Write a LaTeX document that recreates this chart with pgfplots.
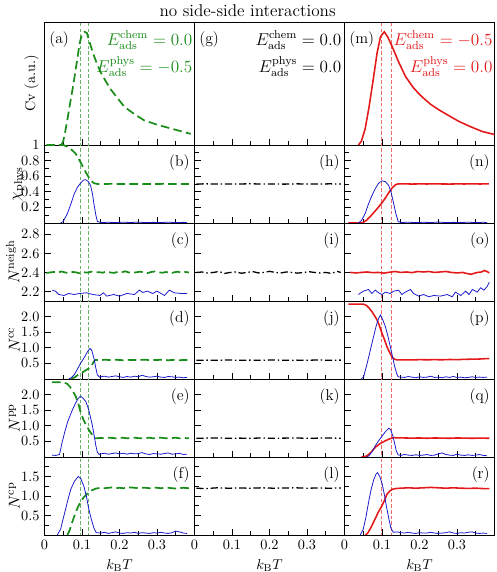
\documentclass[border=0pt]{standalone}
\usepackage{pgfplots}
\pgfplotsset{compat=1.18}

\definecolor{cgreen}{RGB}{25,140,25}
\definecolor{cred}{RGB}{228,25,25}
\definecolor{cblue}{RGB}{25,25,205}

\tikzset{
  lab/.style={font=\fontsize{11}{13}\selectfont, inner sep=0pt},
  ann/.style={anchor=north east, font=\large, inner sep=0pt},
  gline/.style={cgreen, line width=1.2pt, dash pattern=on 6pt off 3pt},
  rline/.style={cred, line width=1.1pt},
  kline/.style={black, line width=0.9pt, dash pattern=on 5pt off 2pt on 1pt off 2pt},
  bline/.style={cblue, line width=0.55pt},
  gv/.style={cgreen!65!white, line width=0.6pt, dash pattern=on 2.5pt off 1.5pt},
  rv/.style={cred!65!white, line width=0.6pt, dash pattern=on 2.5pt off 1.5pt},
}

\pgfplotsset{
  base/.style={
    scale only axis, width=105pt, anchor=north west,
    xmin=0, xmax=0.4,
    xtick={0,0.1,0.2,0.3}, minor xtick={0.05,0.15,0.25,0.35},
    xticklabels={},
    xtick pos=bottom, ytick pos=left, tick align=inside,
    axis line style={line width=0.6pt},
    every tick/.style={black, line width=0.5pt},
    ylabel style={at={([xshift=-17.5pt]rel axis cs:0,0.5)}, anchor=base,
      font=\fontsize{11}{13}\selectfont},
  },
  rowA/.style={height=86.1pt, ymin=0, ymax=1, ytick=\empty,
    ylabel style={at={([xshift=-6.5pt]rel axis cs:0,0.5)}, anchor=base,
      font=\normalsize}},
  rowB/.style={height=54.6pt, ymin=0, ymax=1, ytick={0.2,0.4,0.6,0.8,1},
    minor ytick={0.1,0.3,0.5,0.7,0.9}, yticklabels={0.2,0.4,0.6,0.8,1}},
  rowC/.style={height=54.6pt, ymin=2.1, ymax=2.92, ytick={2.2,2.4,2.6,2.8},
    yticklabels={2.2,2.4,2.6,2.8}},
  rowD/.style={height=54.6pt, ymin=0, ymax=2.5, ytick={0.5,1.0,1.5,2.0},
    yticklabels={0.5,1.0,1.5,2.0}},
  rowF/.style={height=54.6pt, ymin=0, ymax=2.0, ytick={0.5,1.0,1.5},
    minor ytick={0.25,0.75,1.25,1.75}, yticklabels={0.5,1.0,1.5}},
  nolab/.style={yticklabels={}},
  bottomrow/.style={xticklabels={0,0.1,0.2,0.3}, xlabel={$k_{\rm B}T$}},
}

\begin{document}
\begin{tikzpicture}
\useasboundingbox (0,0) rectangle (347.2pt,400.4pt);
\node[font=\large, anchor=base] at (173.3pt,388.5pt) {no side-side interactions};

%================ column 1: E_chem = 0.0, E_phys = -0.5 ================
\begin{axis}[base, rowA, at={(31.15pt,385pt)}, ylabel={Cv (a.u.)}]
  \addplot[gv] coordinates {(0.095,-10) (0.095,10)};
  \addplot[gv] coordinates {(0.118,-10) (0.118,10)};
  \addplot[gline] coordinates {(0.045,0.0) (0.05,0.03) (0.056,0.12) (0.063,0.24) (0.07,0.37) (0.077,0.49) (0.083,0.61) (0.089,0.73) (0.094,0.83) (0.1,0.90) (0.107,0.92) (0.113,0.91) (0.12,0.84) (0.13,0.74) (0.14,0.66) (0.15,0.59) (0.163,0.52) (0.177,0.45) (0.195,0.38) (0.213,0.31) (0.24,0.25) (0.266,0.20) (0.3,0.165) (0.33,0.14) (0.36,0.115) (0.39,0.09)};
  \node[lab, anchor=north west] at (rel axis cs:0.03,0.921) {(a)};
  \node[ann, text=cgreen] at (rel axis cs:0.987,0.93) {$E_{\rm ads}^{\rm chem}=0.0$};
  \node[ann, text=cgreen] at (rel axis cs:0.987,0.725) {$E_{\rm ads}^{\rm phys}=-0.5$};
\end{axis}

\begin{axis}[base, rowB, at={(31.15pt,298.9pt)}, ylabel={$\chi_{\rm phys}$}]
  \addplot[gv] coordinates {(0.095,-10) (0.095,10)};
  \addplot[gv] coordinates {(0.118,-10) (0.118,10)};
  \addplot[gline] coordinates {(0.005,1.0) (0.05,1.0) (0.06,0.98) (0.07,0.95) (0.083,0.89) (0.096,0.78) (0.11,0.65) (0.123,0.545) (0.132,0.51) (0.141,0.50) (0.16,0.50) (0.18,0.502) (0.2,0.499) (0.22,0.501) (0.24,0.50) (0.26,0.498) (0.28,0.501) (0.3,0.50) (0.32,0.502) (0.34,0.499) (0.36,0.501) (0.385,0.50)};
  \addplot[bline] coordinates {(0.043,0) (0.05,0.02) (0.061,0.12) (0.07,0.24) (0.079,0.37) (0.088,0.46) (0.096,0.51) (0.104,0.55) (0.11,0.555) (0.117,0.53) (0.123,0.48) (0.128,0.37) (0.132,0.24) (0.137,0.10) (0.141,0.02) (0.15,0.006) (0.17,0.009) (0.19,0.005) (0.21,0.01) (0.23,0.006) (0.25,0.011) (0.27,0.005) (0.29,0.008) (0.31,0.006) (0.33,0.01) (0.35,0.005) (0.37,0.008) (0.38,0.006)};
  \node[lab, anchor=north east] at (rel axis cs:0.97,0.878) {(b)};
\end{axis}

\begin{axis}[base, rowC, at={(31.15pt,244.3pt)}, ylabel={$N^{\rm neigh}$}]
  \addplot[gv] coordinates {(0.095,-10) (0.095,10)};
  \addplot[gv] coordinates {(0.118,-10) (0.118,10)};
  \addplot[gline] coordinates {(0.005,2.395) (0.015,2.40) (0.025,2.405) (0.035,2.398) (0.045,2.41) (0.055,2.40) (0.065,2.392) (0.075,2.405) (0.085,2.40) (0.095,2.39) (0.105,2.402) (0.115,2.398) (0.125,2.408) (0.135,2.40) (0.145,2.403) (0.155,2.397) (0.165,2.41) (0.175,2.40) (0.185,2.395) (0.195,2.405) (0.205,2.40) (0.215,2.412) (0.225,2.40) (0.235,2.395) (0.245,2.402) (0.255,2.408) (0.265,2.40) (0.275,2.393) (0.285,2.405) (0.295,2.41) (0.305,2.40) (0.315,2.397) (0.325,2.405) (0.335,2.39) (0.345,2.40) (0.355,2.408) (0.365,2.398) (0.375,2.405) (0.385,2.40)};
  \addplot[bline] coordinates {(0.021,2.214) (0.029,2.203) (0.038,2.168) (0.052,2.158) (0.065,2.179) (0.079,2.168) (0.094,2.179) (0.112,2.186) (0.129,2.168) (0.148,2.158) (0.157,2.186) (0.166,2.151) (0.184,2.168) (0.2,2.151) (0.22,2.179) (0.24,2.168) (0.253,2.214) (0.262,2.19) (0.275,2.203) (0.288,2.179) (0.3,2.203) (0.32,2.158) (0.333,2.214) (0.346,2.186) (0.364,2.179) (0.38,2.179)};
  \node[lab, anchor=north east] at (rel axis cs:0.97,0.878) {(c)};
\end{axis}

\begin{axis}[base, rowD, at={(31.15pt,189.7pt)}, ylabel={$N^{\rm cc}$}]
  \addplot[gv] coordinates {(0.095,-10) (0.095,10)};
  \addplot[gv] coordinates {(0.118,-10) (0.118,10)};
  \addplot[gline] coordinates {(0.07,0.0) (0.08,0.05) (0.088,0.12) (0.096,0.18) (0.104,0.23) (0.11,0.28) (0.117,0.33) (0.123,0.40) (0.128,0.48) (0.132,0.57) (0.136,0.61) (0.15,0.60) (0.16,0.62) (0.17,0.61) (0.18,0.60) (0.19,0.615) (0.2,0.61) (0.21,0.60) (0.22,0.62) (0.23,0.605) (0.24,0.61) (0.25,0.60) (0.26,0.615) (0.27,0.62) (0.28,0.60) (0.29,0.61) (0.3,0.605) (0.31,0.62) (0.32,0.61) (0.33,0.60) (0.34,0.61) (0.35,0.615) (0.36,0.60) (0.37,0.61) (0.385,0.605)};
  \addplot[bline] coordinates {(0.065,0) (0.072,0.05) (0.079,0.13) (0.088,0.32) (0.096,0.5) (0.104,0.65) (0.11,0.77) (0.116,0.9) (0.121,0.98) (0.126,0.92) (0.132,0.66) (0.136,0.40) (0.141,0.13) (0.147,0.06) (0.15,0.07) (0.16,0.09) (0.17,0.06) (0.18,0.08) (0.19,0.1) (0.2,0.07) (0.21,0.05) (0.22,0.08) (0.23,0.06) (0.24,0.09) (0.25,0.07) (0.26,0.12) (0.27,0.08) (0.28,0.06) (0.29,0.07) (0.3,0.09) (0.31,0.06) (0.32,0.05) (0.33,0.08) (0.34,0.07) (0.35,0.05) (0.36,0.06) (0.37,0.04) (0.38,0.05)};
  \node[lab, anchor=north east] at (rel axis cs:0.97,0.878) {(d)};
\end{axis}

\begin{axis}[base, rowD, at={(31.15pt,135.1pt)}, ylabel={$N^{\rm pp}$}]
  \addplot[gv] coordinates {(0.095,-10) (0.095,10)};
  \addplot[gv] coordinates {(0.118,-10) (0.118,10)};
  \addplot[gline] coordinates {(0.02,2.40) (0.05,2.39) (0.06,2.35) (0.068,2.25) (0.076,2.1) (0.083,1.95) (0.09,1.72) (0.096,1.45) (0.103,1.22) (0.11,1.04) (0.117,0.9) (0.123,0.78) (0.13,0.67) (0.137,0.60) (0.15,0.61) (0.16,0.60) (0.17,0.62) (0.18,0.61) (0.19,0.60) (0.2,0.61) (0.21,0.615) (0.22,0.60) (0.23,0.61) (0.24,0.62) (0.25,0.605) (0.26,0.60) (0.27,0.61) (0.28,0.615) (0.29,0.60) (0.3,0.61) (0.31,0.62) (0.32,0.605) (0.33,0.60) (0.34,0.61) (0.35,0.615) (0.36,0.60) (0.37,0.61) (0.385,0.60)};
  \addplot[bline] coordinates {(0.02,0.06) (0.03,0.05) (0.04,0.08) (0.047,0.47) (0.054,0.8) (0.061,1.1) (0.068,1.32) (0.074,1.5) (0.083,1.73) (0.09,1.88) (0.096,1.95) (0.103,1.88) (0.11,1.78) (0.115,1.62) (0.119,1.46) (0.124,1.2) (0.128,0.99) (0.133,0.65) (0.137,0.36) (0.141,0.15) (0.146,0.08) (0.15,0.1) (0.16,0.12) (0.17,0.09) (0.18,0.11) (0.19,0.13) (0.2,0.1) (0.21,0.12) (0.22,0.09) (0.23,0.12) (0.24,0.1) (0.25,0.11) (0.26,0.14) (0.27,0.1) (0.28,0.08) (0.29,0.11) (0.3,0.1) (0.31,0.09) (0.32,0.11) (0.33,0.13) (0.34,0.09) (0.35,0.1) (0.36,0.12) (0.37,0.08) (0.38,0.09)};
  \node[lab, anchor=north east] at (rel axis cs:0.97,0.878) {(e)};
\end{axis}

\begin{axis}[base, rowF, bottomrow, at={(31.15pt,80.5pt)}, ylabel={$N^{\rm cp}$}]
  \addplot[gv] coordinates {(0.095,-10) (0.095,10)};
  \addplot[gv] coordinates {(0.118,-10) (0.118,10)};
  \addplot[gline] coordinates {(0.061,0) (0.067,0.12) (0.073,0.3) (0.079,0.47) (0.087,0.67) (0.096,0.85) (0.105,0.97) (0.114,1.06) (0.125,1.14) (0.137,1.19) (0.15,1.21) (0.16,1.20) (0.17,1.21) (0.18,1.22) (0.19,1.20) (0.2,1.21) (0.21,1.20) (0.22,1.21) (0.23,1.22) (0.24,1.21) (0.25,1.20) (0.26,1.21) (0.27,1.21) (0.28,1.20) (0.29,1.22) (0.3,1.21) (0.31,1.20) (0.32,1.21) (0.33,1.21) (0.34,1.20) (0.35,1.19) (0.36,1.20) (0.37,1.21) (0.385,1.20)};
  \addplot[bline] coordinates {(0.034,0) (0.043,0.15) (0.052,0.5) (0.061,0.85) (0.07,1.17) (0.08,1.38) (0.09,1.5) (0.097,1.44) (0.105,1.25) (0.112,0.98) (0.118,0.67) (0.125,0.4) (0.132,0.17) (0.138,0.06) (0.15,0.05) (0.16,0.07) (0.17,0.04) (0.18,0.06) (0.19,0.08) (0.2,0.05) (0.21,0.04) (0.22,0.06) (0.23,0.05) (0.24,0.07) (0.25,0.04) (0.26,0.06) (0.27,0.05) (0.28,0.04) (0.29,0.06) (0.3,0.05) (0.31,0.07) (0.32,0.05) (0.33,0.04) (0.34,0.06) (0.35,0.1) (0.36,0.08) (0.37,0.05) (0.38,0.04)};
  \node[lab, anchor=north east] at (rel axis cs:0.97,0.878) {(f)};
\end{axis}

%================ column 2: E_chem = 0.0, E_phys = 0.0 ================
\begin{axis}[base, rowA, at={(136.15pt,385pt)}]
  \node[lab, anchor=north west] at (rel axis cs:0.03,0.921) {(g)};
  \node[ann] at (rel axis cs:0.98,0.93) {$E_{\rm ads}^{\rm chem}=0.0$};
  \node[ann] at (rel axis cs:0.98,0.725) {$E_{\rm ads}^{\rm phys}=0.0$};
\end{axis}

\begin{axis}[base, rowB, nolab, at={(136.15pt,298.9pt)}]
  \addplot[kline] coordinates {(0.005,0.5) (0.03,0.502) (0.06,0.499) (0.09,0.501) (0.12,0.50) (0.15,0.503) (0.18,0.499) (0.21,0.501) (0.24,0.498) (0.27,0.502) (0.3,0.50) (0.33,0.499) (0.36,0.502) (0.39,0.50)};
  \node[lab, anchor=north east] at (rel axis cs:0.97,0.878) {(h)};
\end{axis}

\begin{axis}[base, rowC, nolab, at={(136.15pt,244.3pt)}]
  \addplot[kline] coordinates {(0.005,2.40) (0.02,2.405) (0.035,2.395) (0.05,2.40) (0.065,2.41) (0.08,2.39) (0.095,2.40) (0.11,2.405) (0.125,2.392) (0.14,2.40) (0.155,2.41) (0.17,2.395) (0.185,2.40) (0.2,2.412) (0.215,2.40) (0.23,2.395) (0.245,2.405) (0.26,2.40) (0.275,2.393) (0.29,2.40) (0.305,2.408) (0.32,2.40) (0.335,2.395) (0.35,2.40) (0.365,2.39) (0.38,2.412) (0.39,2.40)};
  \node[lab, anchor=north east] at (rel axis cs:0.97,0.878) {(i)};
\end{axis}

\begin{axis}[base, rowD, nolab, at={(136.15pt,189.7pt)}]
  \addplot[kline] coordinates {(0.005,0.60) (0.03,0.605) (0.06,0.60) (0.09,0.61) (0.12,0.60) (0.15,0.605) (0.18,0.60) (0.21,0.61) (0.24,0.60) (0.27,0.605) (0.3,0.60) (0.33,0.61) (0.36,0.60) (0.39,0.605)};
  \node[lab, anchor=north east] at (rel axis cs:0.97,0.878) {(j)};
\end{axis}

\begin{axis}[base, rowD, nolab, at={(136.15pt,135.1pt)}]
  \addplot[kline] coordinates {(0.005,0.60) (0.03,0.605) (0.06,0.61) (0.09,0.60) (0.12,0.605) (0.15,0.60) (0.18,0.61) (0.21,0.60) (0.24,0.605) (0.27,0.61) (0.3,0.60) (0.33,0.605) (0.36,0.61) (0.39,0.60)};
  \node[lab, anchor=north east] at (rel axis cs:0.97,0.878) {(k)};
\end{axis}

\begin{axis}[base, rowF, nolab, bottomrow, at={(136.15pt,80.5pt)}]
  \addplot[kline] coordinates {(0.005,1.20) (0.03,1.19) (0.06,1.21) (0.09,1.20) (0.12,1.205) (0.15,1.20) (0.18,1.21) (0.21,1.20) (0.24,1.205) (0.27,1.21) (0.3,1.20) (0.33,1.205) (0.36,1.20) (0.39,1.205)};
  \node[lab, anchor=north east] at (rel axis cs:0.97,0.878) {(l)};
\end{axis}

%================ column 3: E_chem = -0.5, E_phys = 0.0 ================
\begin{axis}[base, rowA, at={(241.15pt,385pt)}]
  \addplot[rv] coordinates {(0.099,-10) (0.099,10)};
  \addplot[rv] coordinates {(0.126,-10) (0.126,10)};
  \addplot[rline] coordinates {(0.037,0.0) (0.045,0.03) (0.055,0.13) (0.065,0.3) (0.075,0.5) (0.087,0.75) (0.096,0.88) (0.106,0.92) (0.115,0.88) (0.127,0.80) (0.145,0.67) (0.163,0.555) (0.185,0.46) (0.207,0.39) (0.23,0.33) (0.252,0.285) (0.28,0.235) (0.306,0.19) (0.335,0.15) (0.367,0.11) (0.4,0.085)};
  \node[lab, anchor=north west] at (rel axis cs:0.03,0.921) {(m)};
  \node[ann, text=cred] at (rel axis cs:0.988,0.93) {$E_{\rm ads}^{\rm chem}=-0.5$};
  \node[ann, text=cred] at (rel axis cs:0.988,0.725) {$E_{\rm ads}^{\rm phys}=0.0$};
\end{axis}

\begin{axis}[base, rowB, nolab, at={(241.15pt,298.9pt)}]
  \addplot[rv] coordinates {(0.099,-10) (0.099,10)};
  \addplot[rv] coordinates {(0.126,-10) (0.126,10)};
  \addplot[rline] coordinates {(0.01,0) (0.045,0) (0.051,0.01) (0.06,0.04) (0.07,0.09) (0.082,0.155) (0.09,0.2) (0.1,0.26) (0.109,0.32) (0.118,0.39) (0.127,0.45) (0.136,0.49) (0.142,0.50) (0.16,0.502) (0.18,0.499) (0.2,0.501) (0.22,0.50) (0.24,0.502) (0.26,0.50) (0.28,0.499) (0.3,0.501) (0.32,0.50) (0.34,0.502) (0.36,0.50) (0.385,0.501)};
  \addplot[bline] coordinates {(0.037,0) (0.045,0.03) (0.055,0.12) (0.064,0.245) (0.073,0.35) (0.082,0.44) (0.091,0.51) (0.1,0.54) (0.109,0.53) (0.118,0.48) (0.125,0.38) (0.131,0.25) (0.137,0.12) (0.143,0.02) (0.15,0.006) (0.17,0.01) (0.19,0.005) (0.21,0.009) (0.23,0.006) (0.25,0.012) (0.27,0.005) (0.29,0.008) (0.31,0.006) (0.33,0.01) (0.35,0.005) (0.37,0.009) (0.38,0.006)};
  \node[lab, anchor=north east] at (rel axis cs:0.97,0.878) {(n)};
\end{axis}

\begin{axis}[base, rowC, nolab, at={(241.15pt,244.3pt)}]
  \addplot[rv] coordinates {(0.099,-10) (0.099,10)};
  \addplot[rv] coordinates {(0.126,-10) (0.126,10)};
  \addplot[rline] coordinates {(0.015,2.40) (0.03,2.395) (0.045,2.40) (0.06,2.405) (0.075,2.398) (0.09,2.40) (0.105,2.393) (0.12,2.402) (0.135,2.41) (0.15,2.40) (0.165,2.405) (0.18,2.398) (0.195,2.41) (0.21,2.405) (0.225,2.41) (0.24,2.40) (0.255,2.405) (0.27,2.41) (0.285,2.40) (0.3,2.395) (0.315,2.40) (0.325,2.39) (0.337,2.38) (0.345,2.39) (0.355,2.40) (0.365,2.405) (0.373,2.42) (0.38,2.41) (0.386,2.395)};
  \addplot[bline] coordinates {(0.037,2.168) (0.05,2.203) (0.064,2.221) (0.073,2.179) (0.082,2.214) (0.091,2.186) (0.1,2.168) (0.109,2.193) (0.122,2.179) (0.131,2.203) (0.144,2.214) (0.153,2.168) (0.162,2.193) (0.176,2.221) (0.184,2.179) (0.198,2.151) (0.211,2.168) (0.225,2.144) (0.238,2.158) (0.256,2.151) (0.274,2.168) (0.287,2.144) (0.296,2.193) (0.31,2.158) (0.323,2.203) (0.332,2.168) (0.341,2.221) (0.354,2.193) (0.363,2.239) (0.372,2.214) (0.381,2.256) (0.386,2.298)};
  \node[lab, anchor=north east] at (rel axis cs:0.97,0.878) {(o)};
\end{axis}

\begin{axis}[base, rowD, nolab, at={(241.15pt,189.7pt)}]
  \addplot[rv] coordinates {(0.099,-10) (0.099,10)};
  \addplot[rv] coordinates {(0.126,-10) (0.126,10)};
  \addplot[rline] coordinates {(0.01,2.40) (0.05,2.40) (0.058,2.36) (0.065,2.28) (0.073,2.16) (0.08,2.03) (0.087,1.89) (0.094,1.68) (0.1,1.46) (0.107,1.25) (0.113,1.04) (0.12,0.86) (0.127,0.70) (0.134,0.63) (0.14,0.61) (0.16,0.615) (0.18,0.61) (0.2,0.62) (0.22,0.615) (0.24,0.62) (0.26,0.615) (0.28,0.625) (0.3,0.62) (0.32,0.63) (0.34,0.635) (0.36,0.64) (0.38,0.655) (0.386,0.65)};
  \addplot[bline] coordinates {(0.045,0) (0.051,0.07) (0.06,0.48) (0.069,0.93) (0.077,1.33) (0.084,1.68) (0.09,1.92) (0.096,2.05) (0.102,1.9) (0.109,1.68) (0.116,1.36) (0.122,1.04) (0.128,0.72) (0.134,0.39) (0.139,0.18) (0.143,0.07) (0.15,0.06) (0.16,0.05) (0.17,0.08) (0.18,0.06) (0.19,0.04) (0.2,0.07) (0.21,0.05) (0.22,0.06) (0.23,0.09) (0.24,0.05) (0.25,0.06) (0.26,0.04) (0.27,0.07) (0.28,0.05) (0.29,0.08) (0.3,0.05) (0.31,0.06) (0.32,0.04) (0.33,0.05) (0.34,0.07) (0.35,0.05) (0.36,0.06) (0.37,0.05) (0.38,0.06)};
  \node[lab, anchor=north east] at (rel axis cs:0.97,0.878) {(p)};
\end{axis}

\begin{axis}[base, rowD, nolab, at={(241.15pt,135.1pt)}]
  \addplot[rv] coordinates {(0.099,-10) (0.099,10)};
  \addplot[rv] coordinates {(0.126,-10) (0.126,10)};
  \addplot[rline] coordinates {(0.045,0) (0.051,0.0) (0.06,0.04) (0.07,0.14) (0.082,0.31) (0.095,0.43) (0.109,0.52) (0.12,0.58) (0.131,0.62) (0.14,0.615) (0.16,0.61) (0.18,0.605) (0.2,0.61) (0.22,0.60) (0.24,0.61) (0.26,0.605) (0.28,0.60) (0.3,0.61) (0.32,0.605) (0.34,0.60) (0.36,0.605) (0.386,0.60)};
  \addplot[bline] coordinates {(0.06,0) (0.066,0.05) (0.074,0.18) (0.082,0.36) (0.09,0.5) (0.1,0.67) (0.109,0.81) (0.118,0.92) (0.123,0.88) (0.129,0.67) (0.134,0.42) (0.138,0.2) (0.143,0.07) (0.15,0.05) (0.16,0.08) (0.17,0.06) (0.18,0.05) (0.19,0.07) (0.2,0.05) (0.21,0.06) (0.22,0.08) (0.23,0.05) (0.24,0.06) (0.25,0.1) (0.26,0.13) (0.27,0.08) (0.28,0.06) (0.29,0.05) (0.3,0.09) (0.31,0.06) (0.32,0.05) (0.33,0.07) (0.34,0.05) (0.35,0.06) (0.36,0.08) (0.37,0.05) (0.38,0.04)};
  \node[lab, anchor=north east] at (rel axis cs:0.97,0.878) {(q)};
\end{axis}

\begin{axis}[base, rowF, nolab, bottomrow, at={(241.15pt,80.5pt)}]
  \addplot[rv] coordinates {(0.099,-10) (0.099,10)};
  \addplot[rv] coordinates {(0.126,-10) (0.126,10)};
  \addplot[rline] coordinates {(0.056,0) (0.062,0.05) (0.07,0.18) (0.082,0.42) (0.091,0.6) (0.1,0.75) (0.107,0.9) (0.113,1.04) (0.12,1.12) (0.127,1.17) (0.135,1.19) (0.15,1.20) (0.17,1.21) (0.19,1.20) (0.21,1.21) (0.23,1.22) (0.25,1.21) (0.27,1.20) (0.29,1.21) (0.31,1.20) (0.33,1.195) (0.35,1.20) (0.37,1.19) (0.386,1.19)};
  \addplot[bline] coordinates {(0.042,0) (0.05,0.15) (0.057,0.45) (0.064,0.83) (0.071,1.17) (0.078,1.42) (0.084,1.56) (0.088,1.6) (0.094,1.5) (0.1,1.33) (0.107,1.0) (0.113,0.67) (0.119,0.38) (0.124,0.17) (0.13,0.07) (0.14,0.08) (0.15,0.06) (0.16,0.05) (0.17,0.07) (0.18,0.05) (0.19,0.04) (0.2,0.06) (0.21,0.05) (0.22,0.05) (0.23,0.07) (0.24,0.05) (0.25,0.04) (0.26,0.05) (0.27,0.06) (0.28,0.08) (0.29,0.05) (0.3,0.04) (0.31,0.06) (0.32,0.05) (0.33,0.07) (0.34,0.08) (0.35,0.05) (0.36,0.04) (0.37,0.05) (0.38,0.04)};
  \node[lab, anchor=north east] at (rel axis cs:0.97,0.878) {(r)};
\end{axis}
\end{tikzpicture}
\end{document}
